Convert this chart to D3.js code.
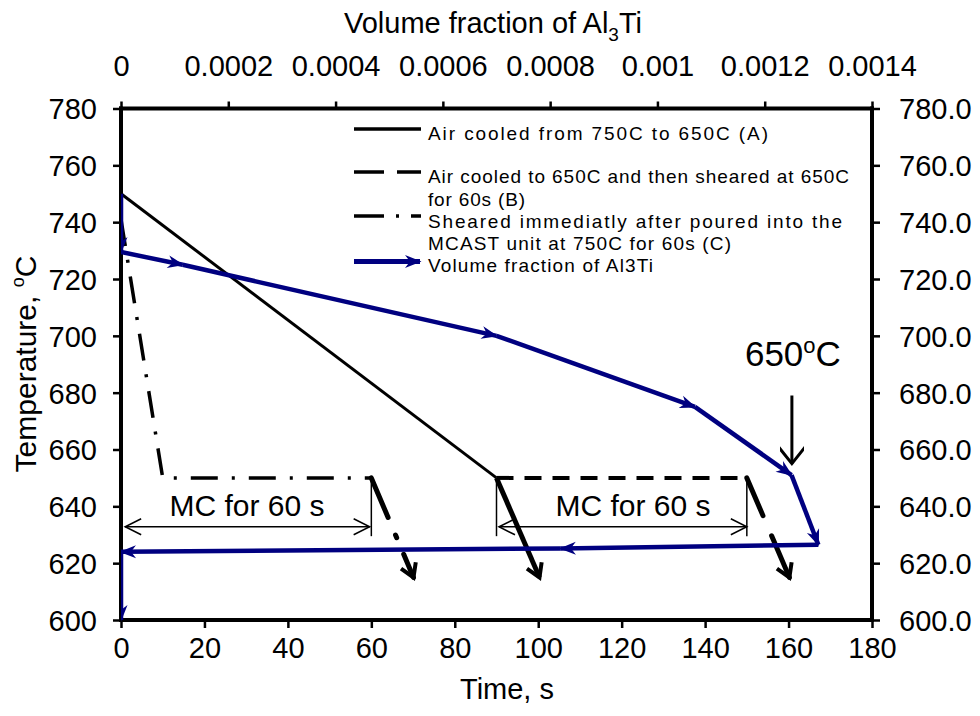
<!DOCTYPE html>
<html><head><meta charset="utf-8">
<script src="https://cdn.jsdelivr.net/npm/d3@7/dist/d3.min.js"></script>
<style>
body{margin:0;background:#fff;}
svg text{font-family:"Liberation Sans",Arial,Helvetica,sans-serif;fill:#000;}
</style></head><body>
<svg id="c" width="980" height="716"></svg>
<script>
// ---------- data ----------
const timeTicks = [0,20,40,60,80,100,120,140,160,180];
const tempTicks = [600,620,640,660,680,700,720,740,760,780];
const vfTicks = [0,0.0002,0.0004,0.0006,0.0008,0.001,0.0012,0.0014];
const vfTickLabels = ["0","0.0002","0.0004","0.0006","0.0008","0.001","0.0012","0.0014"];

// (A) air cooled 750C -> 650C
const aTime = [0, 90];
const aTemp = [750, 650];
const aArrowTime = [90, 100.3];
const aArrowTemp = [650, 615];
// (B) air cooled to 650C then sheared 60 s
const bTime = [90, 150];
const bTemp = [650, 650];
const bArrowTime = [150, 160.2];
const bArrowTemp = [650, 615];
// (C) sheared immediately at 750C for 60 s
const cTime = [0, 10, 60];
const cTemp = [741, 650, 650];
const cArrowTime = [60, 70.1];
const cArrowTemp = [650, 615];
// Volume fraction of Al3Ti (top axis) vs temperature
const vfValues = [0, 0, 0.000115, 0.0007, 0.00107, 0.00125, 0.0013, 0.00082, 0, 0];
const vfTemps  = [750, 729.5, 725, 700, 675, 651, 626.5, 625.2, 624, 600];

// annotations
const mcSpans = [[1, 59.6], [90.6, 150]];
const mcExtTimes = [60, 90, 150];
const mcExtTemps = [650, 629.5];
const mcLineTemp = 632.8;
const mcLabelTimes = [30.2, 122.7];
const mcLabelTemp = 636.5;
const mcLabel = "MC for 60 s";
const tempMarkTime = 160.8;
const tempMarkTemps = [679, 655];
const tempMarkLabelTemp = 689.5;

const legendItems = [
  {lines:["Air cooled from 750C to 650C (A)"], widths:[340], kind:"solid"},
  {lines:["Air cooled to 650C and then sheared at 650C","for 60s (B)"], widths:[421,97], kind:"dash"},
  {lines:["Sheared immediatly after poured into the","MCAST unit at 750C for 60s (C)"], widths:[414,303], kind:"dashdot"},
  {lines:["Volume fraction of Al3Ti"], widths:[225], kind:"blue"}
];

// ---------- chart ----------
const L = 121, R = 872, T = 108.5, B = 620;
const BLUE = "#000080";
const x = d3.scaleLinear().domain([0,180]).range([L,R]);
const y = d3.scaleLinear().domain([600,780]).range([B,T]);
const xTop = d3.scaleLinear().domain([0,0.0014]).range([L,R]);

const svg = d3.select("#c");
const defs = svg.append("defs");
defs.append("clipPath").attr("id","plotClip").append("rect")
  .attr("x",L).attr("y",T-10).attr("width",R-L+10).attr("height",B-T+12);

defs.append("marker").attr("id","blueArrow")
  .attr("viewBox","-17 -9 19 18").attr("refX",0).attr("refY",0)
  .attr("markerWidth",19).attr("markerHeight",18)
  .attr("markerUnits","userSpaceOnUse").attr("orient","auto")
  .append("path").attr("d","M1.5,0 L-15,-6.5 L-10,0 L-15,6.5 Z").attr("fill",BLUE);

defs.append("marker").attr("id","blackV")
  .attr("viewBox","-18 -12 24 24").attr("refX",0).attr("refY",0)
  .attr("markerWidth",24).attr("markerHeight",24)
  .attr("markerUnits","userSpaceOnUse").attr("orient","auto")
  .append("path").attr("d","M-13,-8 L0,0 L-13,8").attr("fill","none")
  .attr("stroke","#000").attr("stroke-width",4);

defs.append("marker").attr("id","thinV")
  .attr("viewBox","-20 -12 24 24").attr("refX",0).attr("refY",0)
  .attr("markerWidth",24).attr("markerHeight",24)
  .attr("markerUnits","userSpaceOnUse").attr("orient","auto-start-reverse")
  .append("path").attr("d","M-16,-8 L0,0 L-16,8").attr("fill","none")
  .attr("stroke","#000").attr("stroke-width",1.5);

defs.append("marker").attr("id","downV")
  .attr("viewBox","-20 -12 24 24").attr("refX",0).attr("refY",0)
  .attr("markerWidth",24).attr("markerHeight",24)
  .attr("markerUnits","userSpaceOnUse").attr("orient","auto")
  .append("path").attr("d","M-17,-13.5 L0,0 L-17,13.5").attr("fill","none")
  .attr("stroke","#000").attr("stroke-width",3);

const FS = 29;
function styleAxis(g){
  g.select(".domain").attr("stroke","#000").attr("stroke-width",4);
  g.selectAll(".tick line").attr("stroke","#000").attr("stroke-width",2.5);
  g.selectAll(".tick text").attr("font-size",FS).attr("font-family",null).attr("fill","#000");
}
// bottom
const gB = svg.append("g").attr("transform",`translate(0,${B})`)
  .call(d3.axisBottom(x).tickValues(timeTicks).tickSize(8).tickSizeOuter(0));
styleAxis(gB);
gB.selectAll(".tick text").attr("y",38).attr("dy",null);
// top
const gT = svg.append("g").attr("transform",`translate(0,${T})`)
  .call(d3.axisTop(xTop).tickValues(vfTicks).tickSize(7).tickSizeOuter(0)
    .tickFormat((d,i)=>vfTickLabels[i]));
styleAxis(gT);
gT.selectAll(".tick text").attr("y",-32.5).attr("dy",null);
// left
const gL = svg.append("g").attr("transform",`translate(${L},0)`)
  .call(d3.axisLeft(y).tickValues(tempTicks).tickSize(8).tickSizeOuter(0).tickFormat(d3.format("d")));
styleAxis(gL);
gL.selectAll(".tick text").attr("x",-24).attr("dy","0.36em");
// right
const gR = svg.append("g").attr("transform",`translate(${R},0)`)
  .call(d3.axisRight(y).tickValues(tempTicks).tickSize(8).tickSizeOuter(0).tickFormat(d3.format(".1f")));
styleAxis(gR);
gR.selectAll(".tick text").attr("x",27).attr("dy","0.36em");
[gB,gT].forEach(g=>g.select(".domain").attr("d",`M${L-2},0H${R+2}`));
[gL,gR].forEach(g=>g.select(".domain").attr("d",`M0,${T-2}V${B+2}`));

// axis titles
const topTitle = svg.append("text").attr("x",493).attr("y",33).attr("text-anchor","middle").attr("font-size",FS);
topTitle.append("tspan").text("Volume fraction of Al");
topTitle.append("tspan").attr("font-size",19).attr("dy",8).text("3");
topTitle.append("tspan").attr("dy",-8).text("Ti");
svg.append("text").attr("x",507).attr("y",699).attr("text-anchor","middle").attr("font-size",FS).text("Time, s");
const yTitle = svg.append("text").attr("transform","translate(36,364) rotate(-90)")
  .attr("text-anchor","middle").attr("font-size",30);
yTitle.append("tspan").text("Temperature,  ");
yTitle.append("tspan").attr("font-size",18).attr("dy",-12).text("o");
yTitle.append("tspan").attr("dy",12).text("C");

// ---------- series ----------
const line = d3.line();
const plot = svg.append("g");
function pts(ts, temps){ return ts.map((t,i)=>[x(t), y(temps[i])]); }

plot.append("path").attr("d",line(pts(aTime,aTemp))).attr("fill","none")
  .attr("stroke","#000").attr("stroke-width",3);
plot.append("path").attr("d",line(pts(bTime,bTemp))).attr("fill","none")
  .attr("stroke","#000").attr("stroke-width",4).attr("stroke-dasharray","17,11");
plot.append("path").attr("d",line(pts(cTime,cTemp))).attr("fill","none")
  .attr("stroke","#000").attr("stroke-width",3.5).attr("stroke-dasharray","27,14,3,14")
  .attr("clip-path","url(#plotClip)");

// annotation dimension lines
mcSpans.forEach(s=>{
  svg.append("line").attr("x1",x(s[0])).attr("x2",x(s[1]))
    .attr("y1",y(mcLineTemp)).attr("y2",y(mcLineTemp))
    .attr("stroke","#000").attr("stroke-width",1.5)
    .attr("marker-start","url(#thinV)").attr("marker-end","url(#thinV)");
});
mcExtTimes.forEach(t=>{
  svg.append("line").attr("x1",x(t)).attr("x2",x(t))
    .attr("y1",y(mcExtTemps[0])).attr("y2",y(mcExtTemps[1]))
    .attr("stroke","#000").attr("stroke-width",1.5);
});
mcLabelTimes.forEach(t=>{
  svg.append("text").attr("x",x(t)).attr("y",y(mcLabelTemp)).attr("text-anchor","middle")
    .attr("font-size",30).text(mcLabel);
});

// thick shear arrows
plot.append("path").attr("d",line(pts(aArrowTime,aArrowTemp))).attr("fill","none")
  .attr("stroke","#000").attr("stroke-width",5).attr("marker-end","url(#blackV)");
plot.append("path").attr("d",line(pts(bArrowTime,bArrowTemp))).attr("fill","none")
  .attr("stroke","#000").attr("stroke-width",5).attr("stroke-dasharray","41,22,100")
  .attr("stroke-linecap","round").attr("marker-end","url(#blackV)");
plot.append("path").attr("d",line(pts(cArrowTime,cArrowTemp))).attr("fill","none")
  .attr("stroke","#000").attr("stroke-width",5).attr("stroke-dasharray","43,19,3,18,100")
  .attr("stroke-linecap","round").attr("marker-end","url(#blackV)");

// blue series: each segment ends in an arrowhead
const bluePts = vfValues.map((v,i)=>[xTop(v), y(vfTemps[i])]);
const blueG = svg.append("g").attr("clip-path","url(#plotClip)");
for(let i=0;i<bluePts.length-1;i++){
  blueG.append("path").attr("d",line([bluePts[i],bluePts[i+1]])).attr("fill","none")
    .attr("stroke",BLUE).attr("stroke-width",4.5).attr("stroke-linecap","butt")
    .attr("marker-end","url(#blueArrow)");
}

// 650 oC annotation
svg.append("line").attr("x1",x(tempMarkTime)).attr("x2",x(tempMarkTime))
  .attr("y1",y(tempMarkTemps[0])).attr("y2",y(tempMarkTemps[1]))
  .attr("stroke","#000").attr("stroke-width",3).attr("marker-end","url(#downV)");
const tl = svg.append("text").attr("x",x(tempMarkTime)+1).attr("y",y(tempMarkLabelTemp))
  .attr("text-anchor","middle").attr("font-size",35);
tl.append("tspan").text("650");
tl.append("tspan").attr("font-size",22).attr("dy",-13).text("o");
tl.append("tspan").attr("dy",13).text("C");

// ---------- legend ----------
const legLineY = [129,172,216,261.5];
const legBase = [[140],[183,206],[227.5,249.5],[271.5]];
const lg = svg.append("g");
legendItems.forEach((it,i)=>{
  const ly = legLineY[i];
  const ln = lg.append("line").attr("x1",354).attr("x2",it.kind==="blue"?420:421).attr("y1",ly).attr("y2",ly)
    .attr("stroke",it.kind==="blue"?BLUE:"#000").attr("stroke-width",it.kind==="blue"?5:3.5);
  if(it.kind==="dash") ln.attr("stroke-dasharray","30,13");
  if(it.kind==="dashdot") ln.attr("stroke-dasharray","30,12,3,12");
  if(it.kind==="blue") ln.attr("marker-end","url(#blueArrow)");
  it.lines.forEach((s,j)=>{
    lg.append("text").attr("x",428).attr("y",legBase[i][j]).attr("font-size",19)
      .attr("textLength",it.widths[j]).attr("lengthAdjust","spacing").text(s);
  });
});
</script>
</body></html>
